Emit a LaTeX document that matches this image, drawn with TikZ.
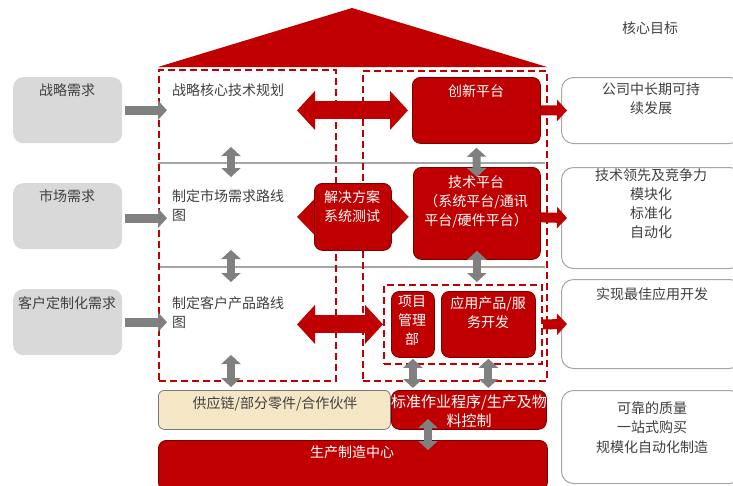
\documentclass[tikz,border=0pt]{standalone}
\usepackage{fontspec}
\setmainfont{Noto Sans CJK SC}
\usetikzlibrary{arrows.meta,calc}
\definecolor{dred}{HTML}{C00000}
\definecolor{bred}{HTML}{7A0000}
\definecolor{ggray}{HTML}{808080}
\definecolor{lgray}{HTML}{D9D9D9}
\definecolor{tgray}{HTML}{404040}
\definecolor{beige}{HTML}{F5E7C6}
\definecolor{lline}{HTML}{A6A6A6}
\pgfdeclarelayer{bg}
\pgfsetlayers{bg,main}
\newcommand\fsz{\fontsize{14}{19}\selectfont}
\begin{document}
\begin{tikzpicture}[x=1pt,y=-1pt,
  gbox/.style={fill=lgray, draw=none, rounded corners=10pt, minimum width=109pt, minimum height=66pt, anchor=north west, inner sep=0pt},
  wbox/.style={fill=white, draw=lline, line width=1pt, rounded corners=12pt, minimum width=180pt, anchor=north west, inner sep=0pt},
  rbox/.style={fill=dred, draw=bred, line width=0.8pt, rounded corners=8pt, anchor=north west, inner sep=0pt},
  ybox/.style={fill=beige, draw=tgray!70, line width=0.8pt, rounded corners=6pt, anchor=north west, inner sep=0pt},
  dbox/.style={draw=dred, line width=1.8pt, dash pattern=on 7pt off 4pt, anchor=north west, inner sep=0pt},
  hline/.style={draw=lline, line width=1.5pt},
  garrow/.style={draw=ggray, line width=9pt, -{Triangle[length=9pt,width=19pt]}},
  gdarrow/.style={draw=ggray, line width=8pt, {Triangle[length=9pt,width=19pt]}-{Triangle[length=9pt,width=19pt]}},
  rdarrow/.style={draw=dred, line width=18pt, {Triangle[length=18pt,width=38pt]}-{Triangle[length=18pt,width=38pt]}},
  rarrow/.style={draw=dred, line width=10pt, -{Triangle[length=10pt,width=21pt]}},
  tx/.style={inner sep=0pt, font=\fsz, text=tgray, align=center, anchor=north},
  txl/.style={inner sep=0pt, font=\fsz, text=tgray, align=left, anchor=north west},
  wt/.style={inner sep=0pt, font=\fsz, text=white, align=center, anchor=north}
]
\useasboundingbox (0,0) rectangle (733,485);

% roof
\fill[dred] (158,67) -- (352,8) -- (547,67) -- cycle;

% left demand boxes
\node[gbox] (s1) at (13,77) {};
\node[gbox] (s2) at (13,183) {};
\node[gbox] (s3) at (13,289) {};

% right goal boxes
\node[wbox, minimum height=66pt] (g1) at (561,77) {};
\node[wbox, minimum height=101pt] (g2) at (561,167) {};
\node[wbox, minimum height=89pt] (g3) at (561,279) {};
\node[wbox, minimum height=93pt] (g4) at (561,390) {};

% dashed frames
\node[dbox, minimum width=177pt, minimum height=311pt] (leftD) at (158,69) {};
\node[dbox, minimum width=184pt, minimum height=310pt] (rightD) at (362,70) {};
\node[dbox, minimum width=158pt, minimum height=79pt] (inner) at (383,284) {};

% red boxes
\node[rbox, minimum width=128pt, minimum height=66pt] (cx) at (412,77) {};
\node[rbox, minimum width=127pt, minimum height=92pt] (js) at (413,167) {};
\node[rbox, minimum width=77pt, minimum height=67pt] (jj) at (314,183) {};
\node[rbox, minimum width=43pt, minimum height=66pt] (xm) at (391,291) {};
\node[rbox, minimum width=94pt, minimum height=66pt] (yy) at (441,291) {};
\node[ybox, minimum width=232pt, minimum height=39pt] (gy) at (158,390) {};
\node[rbox, minimum width=155pt, minimum height=39pt] (bz) at (391,390) {};
\node[rbox, minimum width=389pt, minimum height=50pt] (sc) at (158,440) {};

% background: divider lines and red double arrows
\begin{pgfonlayer}{bg}
\draw[hline] (158,163) -- (545,163);
\draw[hline] (158,267) -- (545,267);
\draw[rdarrow] ($(jj.west |- cx.west)+(-17,0)$) -- ($(cx.west)+(-4,0)$);
\draw[draw=dred, line width=18pt, {Triangle[length=17pt,width=34pt]}-{Triangle[length=17pt,width=34pt]}] ($(jj.west)+(-17,0)$) -- ($(jj.east)+(17,0)$);
\draw[rdarrow] ($(jj.west |- inner.west)+(-17,0)$) -- (inner.west);
\end{pgfonlayer}

% gray input arrows
\draw[garrow] ($(s1.east)+(3,0)$) -- ($(leftD.west |- s1.east)+(9,0)$);
\draw[garrow] ($(s2.east)+(3,2)$) -- ($(leftD.west |- s2.east)+(9,2)$);
\draw[garrow] ($(s3.east)+(3,0)$) -- ($(leftD.west |- s3.east)+(9,0)$);

% gray vertical double arrows
\coordinate (v1a) at (231,147); \coordinate (v1b) at (231,177);
\coordinate (v2a) at (231,250); \coordinate (v2b) at (231,282);
\coordinate (v3a) at (231,355);
\draw[gdarrow] (v1a) -- (v1b);
\draw[gdarrow] (v2a) -- (v2b);
\draw[gdarrow] (v3a) -- ($(v3a |- gy.north)+(0,-3)$);
\draw[gdarrow] ($(cx.south)+(0,4)$) -- ($(js.north)+(0,10)$);
\draw[gdarrow] ($(js.south)+(0,-9)$) -- ($(js.south |- inner.north)+(0,-2)$);
\draw[gdarrow] ($(xm.south)+(0,1)$) -- ($(xm.south |- bz.north)+(0,-2)$);
\draw[gdarrow] ($(yy.south)+(0,1)$) -- ($(yy.south |- bz.north)+(0,-2)$);
\coordinate (v4a) at (428,419);
\draw[gdarrow] (v4a) -- ($(v4a |- sc.north)+(0,10)$);

% red arrows to goals
\draw[rarrow] (cx.east) -- ($(g1.west)+(6,0)$);
\draw[rarrow] ($(js.east)+(0,4)$) -- ($(g2.west)+(6,0)$);
\draw[rarrow] (inner.east) -- ($(g3.west)+(6,0)$);

% texts
\node[tx] (title) at (650,21) {核心目标};
\node[tx] (s1t) at (67,83) {战略需求};
\node[tx] (s2t) at (67,189) {市场需求};
\node[tx] (s3t) at (67,296) {客户定制化需求};
\node[txl] (l1t) at (172,83) {战略核心技术规划};
\node[txl] (l2t) at (172,189) {制定市场需求路线\\图};
\node[txl] (l3t) at (172,296) {制定客户产品路线\\图};
\node[wt] (cxt) at (476,84) {创新平台};
\node[wt] (jjt) at (352,190) {解决方案\\系统测试};
\node[wt] (jst) at (476,175) {技术平台\\（系统平台/通讯\\平台/硬件平台）};
\node[wt] (xmt) at (412,295) {项目\\管理\\部};
\node[wt] (yyt) at (488,296) {应用产品/服\\务开发};
\node[tx] (gyt) at (275,396) {供应链/部分零件/合作伙伴};
\node[wt, font=\fontsize{15}{19}\selectfont] (bzt) at (469,395) {标准作业程序/生产及物\\料控制};
\node[wt] (sct) at (352,446) {生产制造中心};
\node[tx] (g1t) at (651,83) {公司中长期可持\\续发展};
\node[tx] (g2t) at (651,168) {技术领先及竞争力\\模块化\\标准化\\自动化};
\node[tx] (g3t) at (652,287) {实现最佳应用开发};
\node[tx, font=\fontsize{14}{19.5}\selectfont] (g4t) at (652,401) {可靠的质量\\一站式购买\\规模化自动化制造};
\end{tikzpicture}
\end{document}
